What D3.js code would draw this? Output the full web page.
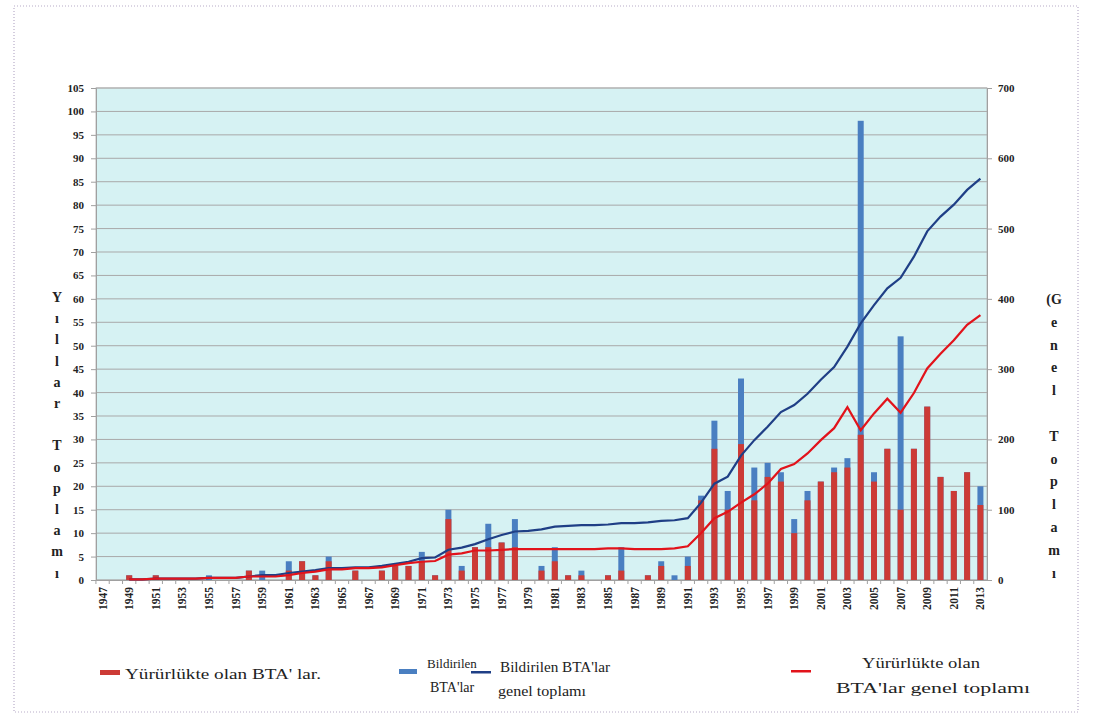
<!DOCTYPE html>
<html>
<head>
<meta charset="utf-8">
<script src="https://cdn.jsdelivr.net/npm/d3@7"></script>
<style>
  body { margin: 0; background: #fff; }
  svg text { font-family: "Liberation Serif", "DejaVu Serif", serif; }
</style>
</head>
<body>
<div id="chart"></div>
<script>
// years 1947..2013 (categories)
var years = d3.range(1947, 2014);
var xLabels = years.filter(function(y){ return (y - 1947) % 2 == 0; });

// yearly bars (left axis) - notified RTAs (blue) and in force (red)
var notified = [0,0,1,0,1,0,0,0,1,0, 0,2,2,0,4,4,1,5,0,2, 0,2,3,3,6,1,15,3,7,12, 8,13,0,3,7,1,2,0,1,7, 0,1,4,1,5,18,34,19,43,24, 25,23,13,19,21,24,26,98,23,28, 52,28,37,22,19,23,20];
var inForce  = [0,0,1,0,1,0,0,0,0,0, 0,2,0,0,2,4,1,4,0,2, 0,2,3,3,4,1,13,2,7,7, 8,7,0,2,4,1,1,0,1,2, 0,1,3,0,3,17,28,15,29,17, 22,21,10,17,21,23,24,31,21,28, 15,28,37,22,19,23,16];

// cumulative lines (right axis), from 1949
var lineYears = d3.range(1949, 2014);
var cumNotified = [1,1,2,2,2,2,3,3,3,5, 7,7,10,12,14,17,17,18,18,20, 23,26,31,32,43,46,51,58,64,69, 70,72,76,77,78,78,79,81,81,82, 84,85,88,110,137,147,177,199,218,239, 249,265,285,303,332,365,391,415,430,460, 496,517,534,555,571];
var cumInForce  = [1,1,2,2,2,2,3,3,3,5, 5,5,7,10,12,15,15,17,17,18, 21,24,26,27,36,38,42,42,43,44, 44,44,44,44,44,44,45,45,44,44, 44,45,48,67,88,97,110,122,137,158, 165,180,199,216,246,213,237,258,238,266, 301,322,341,363,377];

var leftTicks = d3.range(0, 106, 5);
var rightTicks = d3.range(0, 701, 100);

var width = 1093, height = 724;
var px0 = 96, px1 = 987, py0 = 88, py1 = 580;

var svg = d3.select("#chart").append("svg")
    .attr("width", width).attr("height", height);

// outer dotted frame
svg.append("rect")
    .attr("x", 14).attr("y", 6).attr("width", 1064).attr("height", 706)
    .attr("fill", "none").attr("stroke", "#b8acc8").attr("stroke-width", 1.2)
    .attr("stroke-dasharray", "1,2");

var x = d3.scaleBand().domain(years).range([px0, px1]).paddingInner(0.55).paddingOuter(0.27);
var xc = function(yr){ return x(yr) + x.bandwidth() / 2; };
var yL = d3.scaleLinear().domain([0, 105]).range([py1, py0]);
var yR = d3.scaleLinear().domain([0, 700]).range([py1, py0]);

// plot background (light cyan)
svg.append("rect")
    .attr("x", px0).attr("y", py0).attr("width", px1 - px0).attr("height", py1 - py0)
    .attr("fill", "#d6f2f3").attr("stroke", "#bdbdbd");

// gridlines
svg.append("g").selectAll("line").data(leftTicks).enter().append("line")
    .attr("x1", px0).attr("x2", px1)
    .attr("y1", function(d){ return yL(d); }).attr("y2", function(d){ return yL(d); })
    .attr("stroke", "#a9a9a9").attr("stroke-width", 1);

// left axis
var gl = svg.append("g").attr("transform", "translate(" + px0 + ",0)")
    .call(d3.axisLeft(yL).tickValues(leftTicks).tickSize(5).tickPadding(7));
gl.select(".domain").attr("stroke", "#a0a0a0");
gl.selectAll(".tick line").attr("stroke", "#a0a0a0");
gl.selectAll("text").attr("font-size", 11).attr("font-weight", "bold").attr("fill", "#222")
    .style("font-family", "Liberation Serif");

// right axis
var gr = svg.append("g").attr("transform", "translate(" + px1 + ",0)")
    .call(d3.axisRight(yR).tickValues(rightTicks).tickSize(5).tickPadding(6));
gr.select(".domain").attr("stroke", "#a0a0a0");
gr.selectAll(".tick line").attr("stroke", "#a0a0a0");
gr.selectAll("text").attr("font-size", 11).attr("font-weight", "bold").attr("fill", "#222")
    .style("font-family", "Liberation Serif");

// bottom axis
var gb = svg.append("g").attr("transform", "translate(0," + py1 + ")")
    .call(d3.axisBottom(x).tickValues(xLabels).tickSize(0).tickPadding(6));
gb.select(".domain").attr("stroke", "#a0a0a0");
gb.selectAll("text")
    .attr("font-size", 11.5).attr("font-weight", "bold").attr("fill", "#222")
    .style("font-family", "Liberation Serif")
    .attr("transform", "rotate(-90)")
    .attr("text-anchor", "end")
    .attr("x", -7).attr("y", 0).attr("dy", "0.35em");
// small category ticks
svg.append("g").selectAll("line").data(years).enter().append("line")
    .attr("x1", function(d){ return x(d) - x.step() * x.paddingInner() / 2; })
    .attr("x2", function(d){ return x(d) - x.step() * x.paddingInner() / 2; })
    .attr("y1", py1).attr("y2", py1 + 4).attr("stroke", "#a0a0a0");

// bars
svg.append("g").selectAll("rect").data(years).enter().append("rect")
    .attr("x", function(d){ return x(d); })
    .attr("width", x.bandwidth())
    .attr("y", function(d, i){ return yL(notified[i]); })
    .attr("height", function(d, i){ return py1 - yL(notified[i]); })
    .attr("fill", "#4a7fc1");
svg.append("g").selectAll("rect").data(years).enter().append("rect")
    .attr("x", function(d){ return x(d); })
    .attr("width", x.bandwidth())
    .attr("y", function(d, i){ return yL(inForce[i]); })
    .attr("height", function(d, i){ return py1 - yL(inForce[i]); })
    .attr("fill", "#cc3b36");

// cumulative lines
var lineN = d3.line().x(function(d, i){ return xc(lineYears[i]); }).y(function(d){ return yR(d); });
svg.append("path").datum(cumNotified).attr("d", lineN)
    .attr("fill", "none").attr("stroke", "#1f3f86").attr("stroke-width", 2.2);
svg.append("path").datum(cumInForce).attr("d", lineN)
    .attr("fill", "none").attr("stroke", "#e2131b").attr("stroke-width", 2.2);

// vertical axis titles (stacked letters)
var leftTitle = ["Y","ı","l","l","a","r","","T","o","p","l","a","m","ı"];
svg.append("g").selectAll("text").data(leftTitle).enter().append("text")
    .attr("x", 57).attr("y", function(d, i){ return 302 + i * 21.2; })
    .attr("text-anchor", "middle").attr("font-size", 14).attr("font-weight", "bold")
    .attr("fill", "#222").text(function(d){ return d; });
var rightTitle = ["(G","e","n","e","l","","T","o","p","l","a","m","ı"];
svg.append("g").selectAll("text").data(rightTitle).enter().append("text")
    .attr("x", 1054).attr("y", function(d, i){ return 304 + i * 22.8; })
    .attr("text-anchor", "middle").attr("font-size", 14).attr("font-weight", "bold")
    .attr("fill", "#222").text(function(d){ return d; });

// legend
var lg = svg.append("g").attr("font-size", 15).attr("fill", "#222");
function legendText(tx, ty, w, s) {
  lg.append("text").attr("x", tx).attr("y", ty)
    .attr("textLength", w).attr("lengthAdjust", "spacingAndGlyphs").text(s);
}
lg.append("rect").attr("x", 100).attr("y", 670).attr("width", 20).attr("height", 5).attr("fill", "#cc3b36");
legendText(125, 679, 196, "Yürürlükte olan BTA' lar.");
lg.append("rect").attr("x", 399).attr("y", 669).attr("width", 18).attr("height", 5).attr("fill", "#4a7fc1");
lg.append("text").attr("x", 427).attr("y", 668).attr("font-size", 13).text("Bildirilen");
lg.append("text").attr("x", 430).attr("y", 692).attr("font-size", 14).text("BTA'lar");
lg.append("rect").attr("x", 471).attr("y", 671).attr("width", 20).attr("height", 2.5).attr("fill", "#1f3f86");
legendText(500, 672, 110, "Bildirilen BTA'lar");
legendText(498, 696, 88, "genel toplamı");
lg.append("rect").attr("x", 791).attr("y", 670).attr("width", 20).attr("height", 2.5).attr("fill", "#e2131b");
legendText(862, 668, 118, "Yürürlükte olan");
legendText(836, 693, 194, "BTA'lar genel toplamı");
</script>
</body>
</html>
